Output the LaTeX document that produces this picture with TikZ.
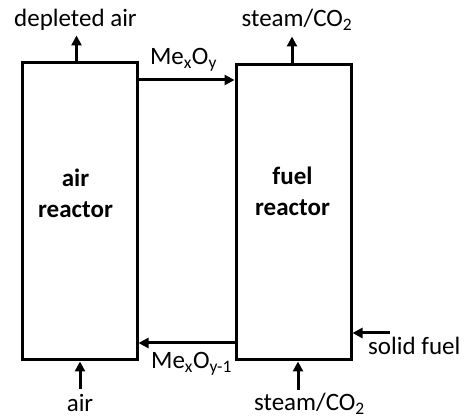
\documentclass[tikz,border=0pt]{standalone}
\usepackage{fontspec}
\setmainfont{Carlito}
\usetikzlibrary{arrows.meta,positioning}

\begin{document}
\begin{tikzpicture}[
    x=1pt, y=1pt,
    font=\fontsize{25}{30}\selectfont,
    reactor/.style={draw, line width=3pt, minimum width=115pt, inner sep=0pt},
    reactortext/.style={align=center, inner sep=0pt, font=\fontsize{25}{31}\selectfont\bfseries},
    flow/.style={-{Triangle[length=10pt, width=10pt]}, line width=3pt},
    lab/.style={anchor=base, inner sep=0pt}
]
\useasboundingbox (0,0) rectangle (469,418);
\node[reactor, minimum height=297pt] (air) at (79.5,206.5) {};
\node[reactor, minimum height=295pt] (fuel) at (293.5,205.5) {};
\node[reactortext, above=-6pt of air.center, xshift=-4pt] (airtxt) {air\\reactor};
\node[reactortext, above=-3pt of fuel.center, xshift=-1pt] (fueltxt) {fuel\\reactor};
% gas outlets on top
\coordinate[above=26pt of air.north, xshift=-3pt] (airout);
\coordinate[above=27pt of fuel.north, xshift=-1.5pt] (fuelout);
\draw[flow] (air.north -| airout) -- (airout);
\draw[flow] (fuel.north -| fuelout) -- (fuelout);
\node[above=9pt of airout, lab, xshift=-1pt] (depl) {depleted air};
\node[above=10pt of fuelout, lab, xshift=5pt] (steamtop) {steam/CO\textsubscript{2}};
% oxygen carrier loop
\coordinate (ox) at (0,338);
\coordinate (red) at (0,75);
\draw[flow] (air.east |- ox) -- node[above=15pt, lab, xshift=-3pt] (oxlab) {Me\textsubscript{x}O\textsubscript{y}} (fuel.west |- ox);
\draw[flow] (fuel.west |- red) -- node[below=26pt, lab, xshift=5pt] (redlab) {Me\textsubscript{x}O\textsubscript{y-1}} (air.east |- red);
% inlets at the bottom
\coordinate[below=28pt of air.south, xshift=0.5pt] (airin);
\coordinate[below=29pt of fuel.south, xshift=4.5pt] (steamin);
\draw[flow] (airin) -- (air.south -| airin);
\draw[flow] (steamin) -- (fuel.south -| steamin);
\node[below=22pt of airin, lab] (airlab) {air};
\node[below=20pt of steamin, lab, xshift=11.5pt] (steambot) {steam/CO\textsubscript{2}};
% solid fuel feed
\coordinate (feed) at (390,85);
\draw[flow] (feed) -- (fuel.east |- feed);
\node[below=22pt of feed, lab, anchor=base west, xshift=-22pt] (fuellab) {solid fuel};
\end{tikzpicture}
\end{document}
